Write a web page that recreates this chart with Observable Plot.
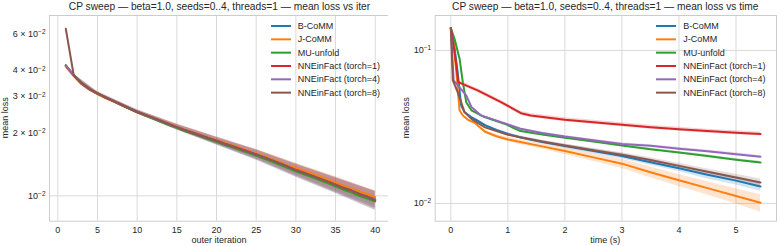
<!DOCTYPE html>
<html><head><meta charset="utf-8">
<script src="https://cdn.jsdelivr.net/npm/d3@7"></script>
<script src="https://cdn.jsdelivr.net/npm/@observablehq/plot@0.6"></script>
<style>
body{margin:0;background:#fff;}
#wrap{position:relative;width:777px;height:246px;overflow:hidden;font-family:"Liberation Sans",Arial,sans-serif;}
.title{position:absolute;top:0;font-size:10.2px;line-height:13px;white-space:nowrap;transform:translateX(-50%);color:#262626;}
</style></head><body><div id="wrap"></div>
<script>
// ---------- data ----------
const seriesNames = ["B-CoMM","J-CoMM","MU-unfold","NNEinFact (torch=1)","NNEinFact (torch=4)","NNEinFact (torch=8)"];
const seriesColors = ["#1f77b4","#ff7f0e","#2ca02c","#d62728","#9467bd","#8c564b"];

const leftTitle = "CP sweep — beta=1.0, seeds=0..4, threads=1 — mean loss vs iter";
const rightTitle = "CP sweep — beta=1.0, seeds=0..4, threads=1 — mean loss vs time";

// left panel: mean loss per outer iteration (1..40)
const iterations = [1,2,3,4,5,6,7,8,9,10,11,12,13,14,15,16,17,18,19,20,21,22,23,24,25,26,27,28,29,30,31,32,33,34,35,36,37,38,39,40];
const iterBCoMM = [0.0422,0.0379,0.0346,0.0325,0.0310,0.0297,0.0285,0.0274,0.0263,0.0253,0.0245,0.0237,0.0229,0.0221,0.0214,0.0207,0.0200,0.0194,0.0188,0.0183,0.0177,0.0172,0.0167,0.0162,0.0157,0.0152,0.0147,0.0142,0.0137,0.0132,0.0128,0.0124,0.0120,0.0116,0.0112,0.0108,0.0105,0.0101,0.0098,0.0095];
const iterJCoMM = [0.0418,0.0376,0.0344,0.0323,0.0308,0.0295,0.0284,0.0273,0.0263,0.0253,0.0245,0.0237,0.0229,0.0222,0.0215,0.0208,0.0202,0.0196,0.0190,0.0185,0.0180,0.0175,0.0170,0.0165,0.0160,0.0155,0.0150,0.0145,0.0140,0.0136,0.0132,0.0128,0.0124,0.0120,0.0116,0.0112,0.0108,0.0105,0.0102,0.00985];
const iterMU = [0.0425,0.0380,0.0347,0.0326,0.0310,0.0297,0.0285,0.0273,0.0262,0.0252,0.0243,0.0235,0.0227,0.0219,0.0212,0.0205,0.0199,0.0193,0.0187,0.0182,0.0176,0.0171,0.0166,0.0161,0.0156,0.0151,0.0146,0.0141,0.0136,0.0131,0.0127,0.0123,0.0119,0.0115,0.0111,0.0107,0.0104,0.0100,0.0097,0.0094];
const iterT1 = [0.0423,0.0379,0.0346,0.0325,0.0310,0.0297,0.0285,0.0274,0.0263,0.0253,0.0245,0.0237,0.0229,0.0221,0.0214,0.0207,0.0201,0.0195,0.0189,0.0184,0.0178,0.0173,0.0168,0.0163,0.0158,0.0153,0.0148,0.0143,0.0138,0.0133,0.0129,0.0125,0.0121,0.0117,0.0113,0.0109,0.0106,0.0102,0.0099,0.0096];
const iterT4 = [0.0423,0.0380,0.0347,0.0326,0.0311,0.0298,0.0286,0.0275,0.0264,0.0254,0.0245,0.0237,0.0229,0.0221,0.0214,0.0207,0.0201,0.0195,0.0189,0.0184,0.0178,0.0173,0.0168,0.0163,0.0158,0.0153,0.0148,0.0143,0.0138,0.0133,0.0129,0.0125,0.0121,0.0117,0.0113,0.0109,0.0106,0.0102,0.0099,0.0096];
const iterT8 = [0.0636,0.0381,0.0348,0.0327,0.0312,0.0298,0.0286,0.0275,0.0264,0.0254,0.0245,0.0237,0.0229,0.0221,0.0214,0.0207,0.0201,0.0195,0.0189,0.0184,0.0178,0.0173,0.0168,0.0163,0.0158,0.0153,0.0148,0.0143,0.0138,0.0133,0.0129,0.0125,0.0121,0.0117,0.0113,0.0109,0.0106,0.0102,0.0099,0.0095];
// relative half-width of the seed band at selected iterations
const bandIterations = [1,2,5,10,15,20,25,30,35,40];
const bandBCoMM = [0.01,0.01,0.015,0.02,0.03,0.04,0.055,0.07,0.085,0.1];
const bandJCoMM = [0.01,0.01,0.015,0.02,0.03,0.035,0.045,0.055,0.065,0.075];
const bandMU = [0.01,0.01,0.012,0.015,0.02,0.025,0.03,0.04,0.05,0.06];
const bandT1 = [0.015,0.01,0.015,0.02,0.03,0.04,0.05,0.065,0.08,0.095];
const bandT4 = [0.015,0.01,0.015,0.02,0.03,0.04,0.05,0.065,0.08,0.095];
const bandT8 = [0.025,0.015,0.02,0.025,0.035,0.045,0.06,0.075,0.09,0.105];

// right panel: mean loss vs wall time (s)
const timeBCoMM = [0,0.06,0.12,0.18,0.24,0.35,0.47,0.6,0.8,1.0,1.22,1.6,2.0,2.5,3.0,3.5,4.0,4.5,5.0,5.43];
const lossBCoMM = [0.140,0.108,0.0721,0.0438,0.0395,0.0368,0.0348,0.0325,0.0302,0.0285,0.0270,0.0252,0.0237,0.0220,0.0204,0.0186,0.0170,0.0154,0.0141,0.0129];
const spreadBCoMM = [0.01,0.01,0.01,0.01,0.01,0.01,0.01,0.012,0.015,0.018,0.02,0.025,0.03,0.035,0.04,0.045,0.05,0.06,0.065,0.07];
const timeJCoMM = [0,0.05,0.1,0.153,0.21,0.3,0.42,0.6,0.8,1.0,1.22,1.6,2.0,2.5,3.0,3.5,4.0,4.5,5.0,5.43];
const lossJCoMM = [0.140,0.110,0.070,0.0406,0.0376,0.0352,0.0336,0.0294,0.0275,0.0262,0.0252,0.0236,0.0220,0.0200,0.0182,0.0160,0.0142,0.0126,0.0112,0.0101];
const spreadJCoMM = [0.01,0.01,0.01,0.01,0.01,0.012,0.015,0.02,0.025,0.03,0.035,0.04,0.05,0.06,0.07,0.08,0.09,0.1,0.115,0.13];
const timeMU = [0,0.065,0.153,0.21,0.27,0.36,0.59,0.94,1.22,1.6,2.0,2.5,3.0,3.5,4.0,4.5,5.0,5.43];
const lossMU = [0.140,0.119,0.0883,0.062,0.0459,0.0406,0.0367,0.0332,0.0297,0.0282,0.0269,0.0254,0.0239,0.0226,0.0215,0.0204,0.0193,0.0185];
const spreadMU = [0.01,0.01,0.01,0.01,0.01,0.01,0.01,0.01,0.012,0.012,0.015,0.015,0.015,0.018,0.018,0.02,0.02,0.02];
const timeT1 = [0,0.07,0.13,0.47,0.88,1.23,1.4,2.0,2.5,3.0,3.5,4.0,4.5,5.0,5.43];
const lossT1 = [0.140,0.095,0.062,0.0548,0.0459,0.0389,0.0376,0.0352,0.0339,0.0327,0.0315,0.0305,0.0297,0.0290,0.0284];
const spreadT1 = [0.01,0.02,0.03,0.03,0.03,0.03,0.03,0.03,0.03,0.03,0.03,0.03,0.03,0.03,0.03];
const timeT4 = [0,0.05,0.27,0.36,0.53,0.88,1.22,1.6,2.0,2.5,3.0,3.5,4.0,4.5,5.0,5.43];
const lossT4 = [0.140,0.0637,0.0508,0.0427,0.0376,0.0340,0.0308,0.0289,0.0274,0.0259,0.0245,0.0238,0.0228,0.0219,0.0210,0.0202];
const spreadT4 = [0.01,0.01,0.01,0.01,0.01,0.012,0.012,0.015,0.015,0.015,0.018,0.018,0.02,0.02,0.02,0.02];
const timeT8 = [0,0.035,0.12,0.24,0.36,0.6,1.0,1.22,1.6,2.0,2.5,3.0,3.5,4.0,4.5,5.0,5.43];
const lossT8 = [0.140,0.0637,0.0534,0.0395,0.0357,0.0314,0.0281,0.0271,0.0254,0.0239,0.0223,0.0208,0.0192,0.0176,0.0161,0.0148,0.0137];
const spreadT8 = [0.01,0.01,0.01,0.01,0.01,0.012,0.015,0.015,0.02,0.022,0.025,0.03,0.035,0.04,0.045,0.05,0.055];

const leftYTicks = [0.01,0.02,0.03,0.04,0.06];
const leftYTickLabels = ["10^−2","2 × 10^−2","3 × 10^−2","4 × 10^−2","6 × 10^−2"];
const leftXTicks = [0,5,10,15,20,25,30,35,40];
const rightYTicks = [0.01,0.1];
const rightYTickLabels = ["10^−2","10^−1"];
const rightXTicks = [0,1,2,3,4,5];

// ---------- build tidy tables ----------
const iterSeries = [iterBCoMM,iterJCoMM,iterMU,iterT1,iterT4,iterT8];
const iterBands = [bandBCoMM,bandJCoMM,bandMU,bandT1,bandT4,bandT8];
const leftLines = [], leftBands = [];
seriesNames.forEach((name,s) => {
  iterations.forEach((it,i) => leftLines.push({series:name, x:it, y:iterSeries[s][i]}));
  bandIterations.forEach((it,i) => {
    const m = iterSeries[s][iterations.indexOf(it)];
    leftBands.push({series:name, x:it, lo:m*(1-iterBands[s][i]), hi:m*(1+iterBands[s][i])});
  });
});
const timeSeries = [[timeBCoMM,lossBCoMM,spreadBCoMM],[timeJCoMM,lossJCoMM,spreadJCoMM],[timeMU,lossMU,spreadMU],[timeT1,lossT1,spreadT1],[timeT4,lossT4,spreadT4],[timeT8,lossT8,spreadT8]];
const rightLines = [], rightBands = [];
seriesNames.forEach((name,s) => {
  const [t,l,sp] = timeSeries[s];
  t.forEach((x,i) => {
    rightLines.push({series:name, x, y:l[i]});
    rightBands.push({series:name, x, lo:l[i]*(1-sp[i]), hi:l[i]*(1+sp[i])});
  });
});

// ---------- drawing ----------
const FONT = '"Liberation Sans", Arial, sans-serif';
const FS = 9;
const GRID = "#d9d9d9";
const wrap = document.getElementById("wrap");

function panel({left, width, marginLeft, xDomain, yDomain, xTicks, yTicks, yLabels, lines, bands, xLabel, yLabelX}) {
  const H = 246, mt = 15, mb = 25.3, mr = 1;
  const svg = Plot.plot({
    width, height: H, marginLeft, marginRight: mr, marginTop: mt, marginBottom: mb,
    style: {fontFamily: FONT, fontSize: FS + "px", color: "#262626", background: "white"},
    x: {domain: xDomain},
    y: {type: "log", domain: yDomain},
    color: {domain: seriesNames, range: seriesColors},
    marks: [
      Plot.gridX(xTicks, {stroke: GRID, strokeOpacity: 1, strokeWidth: 1}),
      Plot.gridY(yTicks.filter(v => Math.abs(Math.log10(v) - Math.round(Math.log10(v))) < 1e-9), {stroke: GRID, strokeOpacity: 1, strokeWidth: 1}),
      Plot.frame({stroke: "#cccccc", strokeWidth: 1}),
      Plot.areaY(bands, {x: "x", y1: "lo", y2: "hi", z: "series", fill: "series", fillOpacity: 0.2, curve: "linear"}),
      Plot.line(lines, {x: "x", y: "y", z: "series", stroke: "series", strokeWidth: 2, curve: "linear"}),
      Plot.axisX({ticks: xTicks, tickSize: 0, tickPadding: 5, label: null, fill: "#262626", tickFormat: d => String(d)}),
      Plot.axisY({ticks: yTicks, tickSize: 0, tickPadding: 4, label: null, tickFormat: v => yLabels[yTicks.indexOf(v)], fill: "#262626"})
    ]
  });
  svg.style.position = "absolute"; svg.style.left = left + "px"; svg.style.top = "0px";
  wrap.appendChild(svg);
  const sel = d3.select(svg);
  // superscripts for tick labels
  sel.selectAll("text").each(function() {
    const t = this.textContent;
    if (t.includes("^")) {
      const [base, exp] = t.split("^");
      const el = d3.select(this); el.text(null);
      el.append("tspan").text(base);
      el.append("tspan").attr("dy", "-0.45em").attr("font-size", "0.72em").text(exp);
    }
  });
  const plotL = marginLeft, plotR = width - mr, plotT = mt, plotB = H - mb;
  sel.append("text").attr("x", (plotL + plotR) / 2).attr("y", 243).attr("text-anchor", "middle")
    .attr("font-size", FS).attr("fill", "#262626").attr("font-family", FONT).text(xLabel);
  sel.append("text").attr("transform", `translate(${yLabelX},${(plotT + plotB) / 2}) rotate(-90)`)
    .attr("text-anchor", "middle").attr("dy", "0.35em").attr("font-size", FS).attr("fill", "#262626").attr("font-family", FONT).text("mean loss");
  return sel;
}

function legend(sel, lineX0, textX) {
  seriesNames.forEach((name, i) => {
    const y = 26 + i * 13.33;
    sel.append("line").attr("x1", lineX0).attr("x2", lineX0 + 20).attr("y1", y).attr("y2", y)
      .attr("stroke", seriesColors[i]).attr("stroke-width", 2);
    sel.append("text").attr("x", textX).attr("y", y).attr("dy", "0.35em").attr("font-size", FS)
      .attr("text-anchor", "start").attr("fill", "#262626").attr("font-family", FONT).text(name);
  });
}

const Lsel = panel({left: 0, width: 390, marginLeft: 49, xDomain: [-1.05, 41.8], yDomain: [0.00755, 0.0736],
  xTicks: leftXTicks, yTicks: leftYTicks, yLabels: leftYTickLabels, lines: leftLines, bands: leftBands,
  xLabel: "outer iteration", yLabelX: 5});
legend(Lsel, 271, 297.7);
const Rsel = panel({left: 388, width: 389, marginLeft: 46.7, xDomain: [-0.274, 5.71], yDomain: [0.00766, 0.169],
  xTicks: rightXTicks, yTicks: rightYTicks, yLabels: rightYTickLabels, lines: rightLines, bands: rightBands,
  xLabel: "time (s)", yLabelX: 18});
legend(Rsel, 656 - 388, 683.3 - 388);

function addTitle(text, cx) {
  const d = document.createElement("div"); d.className = "title"; d.style.left = cx + "px"; d.style.top = "0px";
  d.textContent = text; wrap.appendChild(d);
}
addTitle(leftTitle, 219.5);
addTitle(rightTitle, 605.3);
</script></body></html>
